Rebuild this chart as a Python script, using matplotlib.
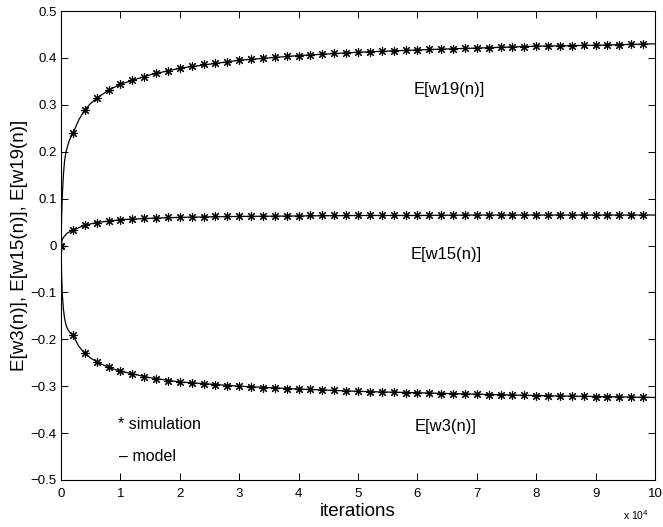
import matplotlib
matplotlib.use("Agg")
import matplotlib.pyplot as plt
import numpy as np

plt.rcParams['font.family'] = ['Liberation Sans', 'DejaVu Sans']

# simulation points (x in units of 10^4 iterations)
x_sim = [0.0, 0.2, 0.4, 0.6, 0.8, 1.0, 1.2, 1.4, 1.6, 1.8,
         2.0, 2.2, 2.4, 2.6, 2.8, 3.0, 3.2, 3.4, 3.6, 3.8,
         4.0, 4.2, 4.4, 4.6, 4.8, 5.0, 5.2, 5.4, 5.6, 5.8,
         6.0, 6.2, 6.4, 6.6, 6.8, 7.0, 7.2, 7.4, 7.6, 7.8,
         8.0, 8.2, 8.4, 8.6, 8.8, 9.0, 9.2, 9.4, 9.6, 9.8]
w19_sim = [0.0, 0.239, 0.289, 0.314, 0.331, 0.344, 0.353, 0.360, 0.367, 0.373,
           0.378, 0.382, 0.386, 0.389, 0.392, 0.395, 0.397, 0.399, 0.401, 0.403,
           0.405, 0.406, 0.408, 0.410, 0.411, 0.412, 0.413, 0.414, 0.415, 0.416,
           0.417, 0.418, 0.419, 0.420, 0.421, 0.421, 0.422, 0.423, 0.423, 0.424,
           0.425, 0.425, 0.426, 0.426, 0.427, 0.427, 0.428, 0.428, 0.429, 0.430]
w15_sim = [0.0, 0.032, 0.043, 0.049, 0.052, 0.055, 0.057, 0.058, 0.059, 0.060,
           0.060, 0.061, 0.061, 0.062, 0.062, 0.062, 0.063, 0.063, 0.063, 0.063,
           0.063, 0.064, 0.064, 0.064, 0.064, 0.064, 0.064, 0.064, 0.064, 0.064,
           0.064, 0.065, 0.065, 0.065, 0.065, 0.065, 0.065, 0.065, 0.065, 0.065,
           0.065, 0.065, 0.065, 0.065, 0.065, 0.065, 0.065, 0.065, 0.065, 0.065]
w3_sim = [0.0, -0.191, -0.230, -0.248, -0.260, -0.268, -0.275, -0.280, -0.284, -0.288,
          -0.291, -0.293, -0.295, -0.297, -0.299, -0.300, -0.302, -0.303, -0.304, -0.305,
          -0.306, -0.307, -0.308, -0.309, -0.310, -0.311, -0.312, -0.312, -0.313, -0.314,
          -0.314, -0.315, -0.316, -0.316, -0.317, -0.317, -0.318, -0.318, -0.319, -0.319,
          -0.320, -0.320, -0.321, -0.321, -0.321, -0.322, -0.322, -0.322, -0.323, -0.323]

# model curves
x_mod = [0.0, 0.01, 0.02, 0.04, 0.06, 0.08, 0.1, 0.13, 0.16, 0.2, 0.3, 0.4, 0.5,
         0.6, 0.8, 1.0, 1.5, 2.0, 3.0, 4.0, 5.0, 6.0, 7.0, 8.0, 9.0, 10.0]
w19_mod = [0.0, 0.06, 0.10, 0.15, 0.18, 0.197, 0.207, 0.220, 0.230, 0.239, 0.268, 0.289, 0.303,
           0.314, 0.331, 0.344, 0.364, 0.378, 0.395, 0.405, 0.412, 0.417, 0.421, 0.425, 0.427, 0.430]
w15_mod = [0.0, 0.007, 0.012, 0.017, 0.020, 0.023, 0.026, 0.028, 0.030, 0.032, 0.038, 0.043, 0.046,
           0.049, 0.052, 0.055, 0.058, 0.060, 0.062, 0.063, 0.064, 0.064, 0.065, 0.065, 0.065, 0.065]
w3_mod = [0.0, -0.06, -0.10, -0.135, -0.155, -0.167, -0.175, -0.182, -0.187, -0.191, -0.215, -0.230, -0.240,
          -0.248, -0.260, -0.268, -0.282, -0.291, -0.300, -0.306, -0.311, -0.314, -0.317, -0.320, -0.322, -0.324]

xticks = [0, 1, 2, 3, 4, 5, 6, 7, 8, 9, 10]
yticks = [-0.5, -0.4, -0.3, -0.2, -0.1, 0, 0.1, 0.2, 0.3, 0.4, 0.5]
ytick_labels = ['\u22120.5', '\u22120.4', '\u22120.3', '\u22120.2', '\u22120.1', '0',
                '0.1', '0.2', '0.3', '0.4', '0.5']

fig = plt.figure(figsize=(6.63, 5.27), dpi=100)
ax = fig.add_axes([61/663, 1-480/527, (655-61)/663, (480-11)/527])

star = (8, 2, 0)
for ym, ys in [(w19_mod, w19_sim), (w15_mod, w15_sim), (w3_mod, w3_sim)]:
    ax.plot(x_mod, ym, color='black', lw=0.9)
    ax.plot(x_sim, ys, linestyle='none', marker=star, markersize=6.5,
            markeredgewidth=0.8, color='black')

ax.set_xlim(0, 10)
ax.set_ylim(-0.5, 0.5)
ax.set_xticks(xticks)
ax.set_xticklabels([str(t) for t in xticks])
ax.set_yticks(yticks)
ax.set_yticklabels(ytick_labels)
ax.tick_params(direction='in', top=True, right=True, length=5, width=0.7, labelsize=9.5, pad=3)
ax.tick_params(axis='x', pad=6)
for s in ax.spines.values():
    s.set_linewidth(0.8)

ax.set_xlabel('iterations', fontsize=13.5, labelpad=2)
ax.set_ylabel('E[w3(n)], E[w15(n)], E[w19(n)]', fontsize=13.5, labelpad=2)

ax.text(5.93, 0.332, 'E[w19(n)]', fontsize=12, ha='left', va='center')
ax.text(5.88, -0.020, 'E[w15(n)]', fontsize=12, ha='left', va='center')
ax.text(5.96, -0.386, 'E[w3(n)]', fontsize=12, ha='left', va='center')
ax.text(0.965, -0.381, '* simulation', fontsize=11.5, ha='left', va='center')
ax.text(0.98, -0.449, '\u2013 model', fontsize=11.5, ha='left', va='center')
ax.text(0.99, -0.075, r'x 10$^4$', transform=ax.transAxes, fontsize=7.5, ha='right', va='center')

fig.savefig('out.png', dpi=100)
